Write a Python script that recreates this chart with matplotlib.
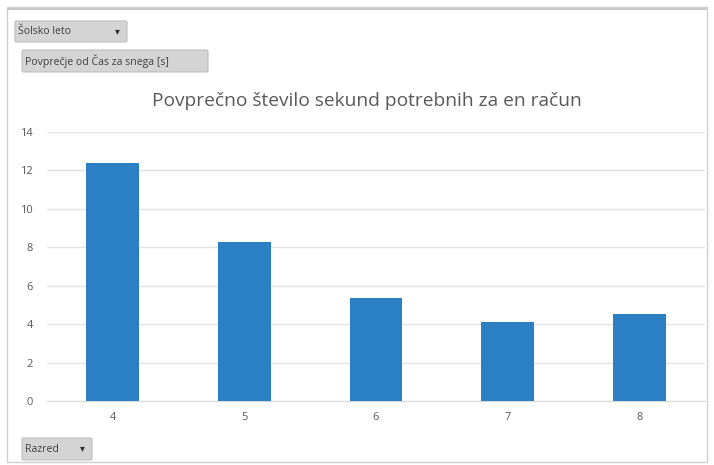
import matplotlib
matplotlib.use("Agg")
import matplotlib.pyplot as plt
from matplotlib.patches import Rectangle, FancyBboxPatch

plt.rcParams['font.family'] = ['Open Sans', 'DejaVu Sans']

categories = ['4', '5', '6', '7', '8']
values = [12.4, 8.27, 5.37, 4.12, 4.55]
yticks = [0, 2, 4, 6, 8, 10, 12, 14]
title = 'Povprečno število sekund potrebnih za en račun'
btn_filter = 'Šolsko leto'
btn_value = 'Povprečje od Čas za snega [s]'
btn_axis = 'Razred'

W, H = 714, 465
fig = plt.figure(figsize=(W / 100, H / 100), dpi=100)
fig.patch.set_facecolor('white')

def fx(x):
    return x / W

def fy(y):
    return 1 - y / H

# outer frame
fig.add_artist(Rectangle((fx(7), fy(462)), fx(700), (455) / H, transform=fig.transFigure,
                         fill=False, edgecolor='#d0d0d0', linewidth=1.0))
fig.add_artist(Rectangle((fx(7), fy(10)), fx(700), 1.5 / H, transform=fig.transFigure,
                         facecolor='#c8c8c8', edgecolor='none'))

ax = fig.add_axes([fx(47), fy(401), fx(705 - 47), (401 - 132) / H])
x = range(len(categories))
ax.bar(x, values, width=0.4, color='#2a80c2', zorder=3)
ax.set_xlim(-0.5, len(categories) - 0.5)
ax.set_ylim(0, 14)
ax.set_yticks(yticks)
ax.set_xticks(list(x))
ax.set_xticklabels(categories)
ax.grid(axis='y', color='#e3e3e3', linewidth=1.0, zorder=0)
for s in ['top', 'right', 'left']:
    ax.spines[s].set_visible(False)
ax.spines['bottom'].set_color('#d9d9d9')
ax.tick_params(axis='both', length=0, colors='#595959', labelsize=8)
ax.tick_params(axis='y', pad=10)
ax.tick_params(axis='x', pad=8)
ax.set_facecolor('white')

fig.text(fx(367), fy(101), title, ha='center', va='center', fontsize=13.8, color='#595959')

def button(x0, y0, x1, y1, label, fs=7.6, suffix=None):
    fig.add_artist(FancyBboxPatch((fx(x0), fy(y1)), fx(x1 - x0), (y1 - y0) / H,
                                  boxstyle='round,pad=0,rounding_size=0.003',
                                  transform=fig.transFigure, facecolor='#d4d4d4',
                                  edgecolor='#bdbdbd', linewidth=0.8))
    fig.text(fx(x0 + 3), fy((y0 + y1) / 2), label, ha='left', va='center',
             fontsize=fs, color='#404040')
    if suffix:
        fig.text(fx(x1 - 7), fy((y0 + y1) / 2), suffix, ha='right', va='center',
                 fontsize=7, color='#303030')

button(15, 21, 127, 42, btn_filter, suffix='▾')
button(22, 50, 208, 72, btn_value)
button(22, 438, 92, 460, btn_axis, suffix='▾')

fig.savefig('out.png', dpi=100)
